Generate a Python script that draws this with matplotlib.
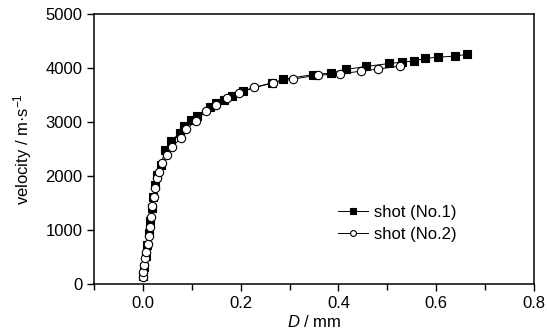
import matplotlib
matplotlib.use("Agg")
import matplotlib.pyplot as plt
from matplotlib.ticker import MultipleLocator

plt.rcParams['font.family'] = ['Liberation Sans', 'DejaVu Sans']
plt.rcParams['mathtext.fontset'] = 'custom'
plt.rcParams['mathtext.rm'] = 'Liberation Sans'
plt.rcParams['mathtext.it'] = 'Liberation Sans:italic'

# shot No.1 (filled squares)
d1 = [0.001, 0.003, 0.006, 0.009, 0.012, 0.015, 0.018, 0.021, 0.024, 0.028,
      0.036, 0.046, 0.058, 0.075, 0.085, 0.098, 0.111, 0.137, 0.150, 0.165,
      0.182, 0.204, 0.264, 0.286, 0.348, 0.385, 0.416, 0.457, 0.504, 0.531,
      0.554, 0.578, 0.603, 0.638, 0.663]
v1 = [150, 320, 520, 730, 950, 1170, 1400, 1620, 1830, 2020,
      2204, 2480, 2650, 2800, 2920, 3040, 3120, 3270, 3360, 3407,
      3490, 3580, 3722, 3790, 3880, 3907, 3975, 4030, 4085, 4111,
      4130, 4180, 4200, 4222, 4255]

# shot No.2 (open circles)
d2 = [0.000, 0.000, 0.002, 0.005, 0.007, 0.010, 0.012, 0.014, 0.017, 0.019,
      0.022, 0.025, 0.029, 0.033, 0.038, 0.049, 0.060, 0.077, 0.089, 0.108,
      0.130, 0.150, 0.172, 0.197, 0.227, 0.266, 0.307, 0.358, 0.403, 0.446,
      0.481, 0.526]
v2 = [124, 228, 352, 476, 598, 741, 889, 1050, 1246, 1444,
      1617, 1772, 1957, 2080, 2235, 2389, 2543, 2698, 2865, 3024,
      3209, 3315, 3450, 3531, 3643, 3728, 3796, 3870, 3889, 3944,
      3981, 4037]

labels = ['shot (No.1)', 'shot (No.2)']

fig = plt.figure(figsize=(5.47, 3.35), dpi=100)
ax = fig.add_axes([0.172, 0.152, 0.804, 0.806])

ax.plot(d1, v1, '-', color='black', lw=0.7, marker='s', ms=5.5,
        mfc='black', mec='black', mew=0.8, label=labels[0], zorder=3)
ax.plot(d2, v2, '-', color='black', lw=0.7, marker='o', ms=6,
        mfc='white', mec='black', mew=0.8, label=labels[1], zorder=4)

ax.set_xlim(-0.1, 0.8)
ax.set_ylim(0, 5000)
ax.xaxis.set_minor_locator(MultipleLocator(0.1))
ax.yaxis.set_major_locator(MultipleLocator(1000))
ax.set_xticks([0.0, 0.2, 0.4, 0.6, 0.8])
ax.set_xticklabels(['0.0', '0.2', '0.4', '0.6', '0.8'])
ax.tick_params(axis='both', which='both', direction='out', top=False, right=False,
               labelsize=12, width=1.0)
ax.tick_params(which='major', length=5)
ax.tick_params(which='minor', length=4)
for s in ax.spines.values():
    s.set_linewidth(1.1)

ax.set_xlabel('$D$ / mm', fontsize=12, labelpad=2)
ax.set_ylabel('velocity / m·s$^{\\mathregular{-1}}$', fontsize=12, labelpad=8)

leg = ax.legend(loc='lower right', bbox_to_anchor=(0.84, 0.13), frameon=False,
                fontsize=12, handlelength=1.8, markerscale=0.7, handletextpad=0.4,
                labelspacing=0.45, borderaxespad=0)

fig.savefig('out.png', dpi=100)
